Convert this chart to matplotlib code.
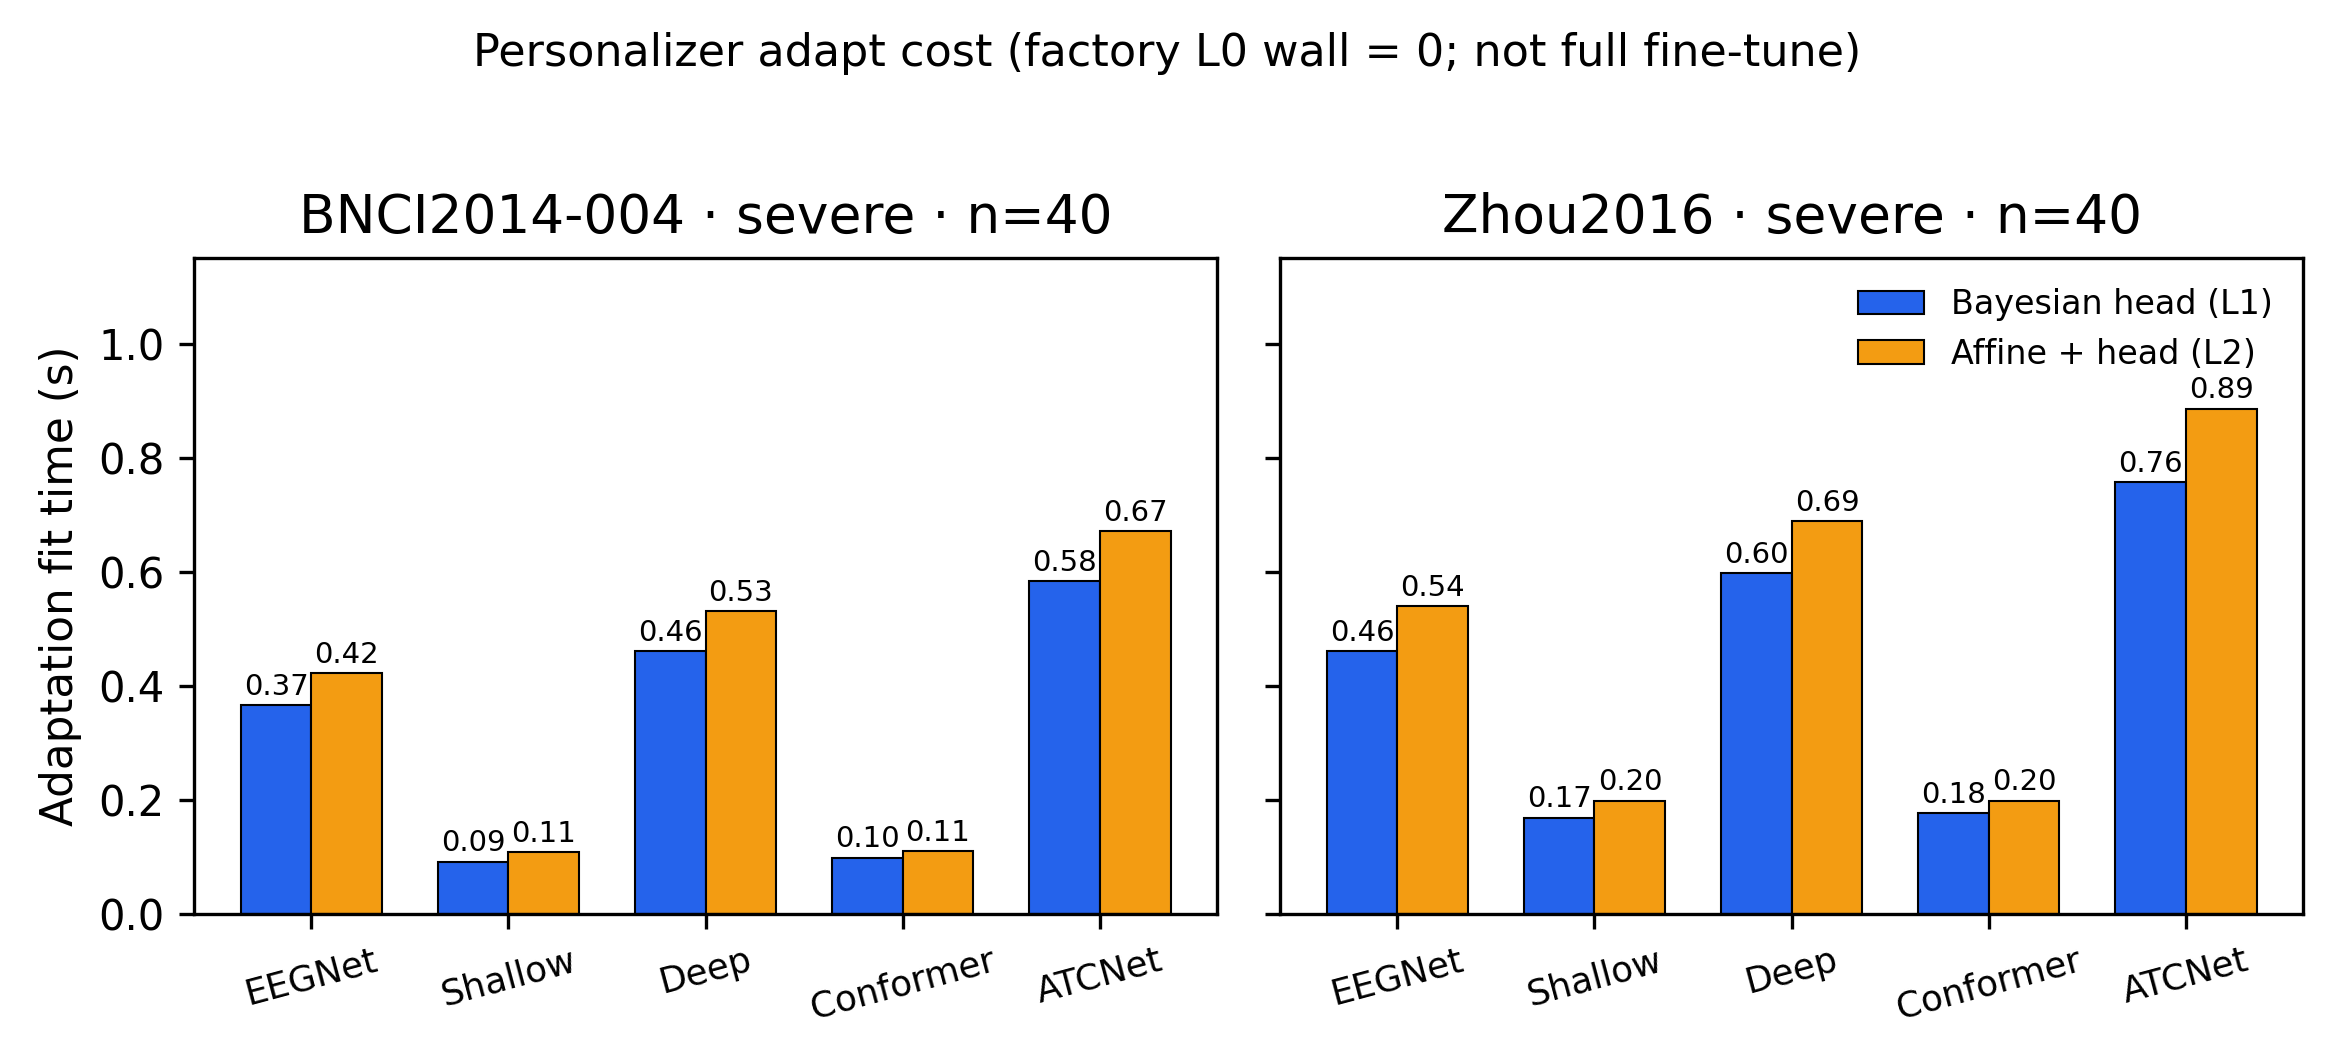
import matplotlib
matplotlib.use("Agg")
import matplotlib.pyplot as plt
import numpy as np

# adaptation fit time (s) per backbone, severe shift, n=40
models = ["EEGNet", "Shallow", "Deep", "Conformer", "ATCNet"]
bnci_l1 = [0.367, 0.092, 0.461, 0.099, 0.583]
bnci_l2 = [0.422, 0.108, 0.531, 0.110, 0.671]
zhou_l1 = [0.461, 0.169, 0.597, 0.177, 0.757]
zhou_l2 = [0.540, 0.199, 0.689, 0.199, 0.886]
panels = ["BNCI2014-004 · severe · n=40", "Zhou2016 · severe · n=40"]

c1 = "#2563eb"
c2 = "#f39c12"
w = 0.36

fig, axes = plt.subplots(1, 2, figsize=(2335/300, 1060/300), dpi=300, sharey=True)
fig.subplots_adjust(left=0.0831, right=0.9863, top=0.7566, bottom=0.1377, wspace=0.0616)

x = np.arange(len(models))
for ax, title, l1, l2 in zip(axes, panels, [bnci_l1, zhou_l1], [bnci_l2, zhou_l2]):
    b1 = ax.bar(x - w/2, l1, w, color=c1, edgecolor="black", linewidth=0.5, label="Bayesian head (L1)")
    b2 = ax.bar(x + w/2, l2, w, color=c2, edgecolor="black", linewidth=0.5, label="Affine + head (L2)")
    for bars in (b1, b2):
        ax.bar_label(bars, fmt="%.2f", fontsize=7, padding=1)
    ax.set_title(title, fontsize=12.8)
    ax.set_xticks(x)
    ax.set_xticklabels(models, rotation=15, fontsize=8.6)
    ax.tick_params(axis="y", labelsize=10)

axes[0].set_ylim(0, 1.15)
axes[0].set_ylabel("Adaptation fit time (s)", fontsize=10.5)
axes[1].legend(loc="upper right", frameon=False, fontsize=8)

fig.suptitle("Personalizer adapt cost (factory L0 wall = 0; not full fine-tune)", fontsize=10.7, y=0.97)

fig.savefig("out.png", dpi=300)
